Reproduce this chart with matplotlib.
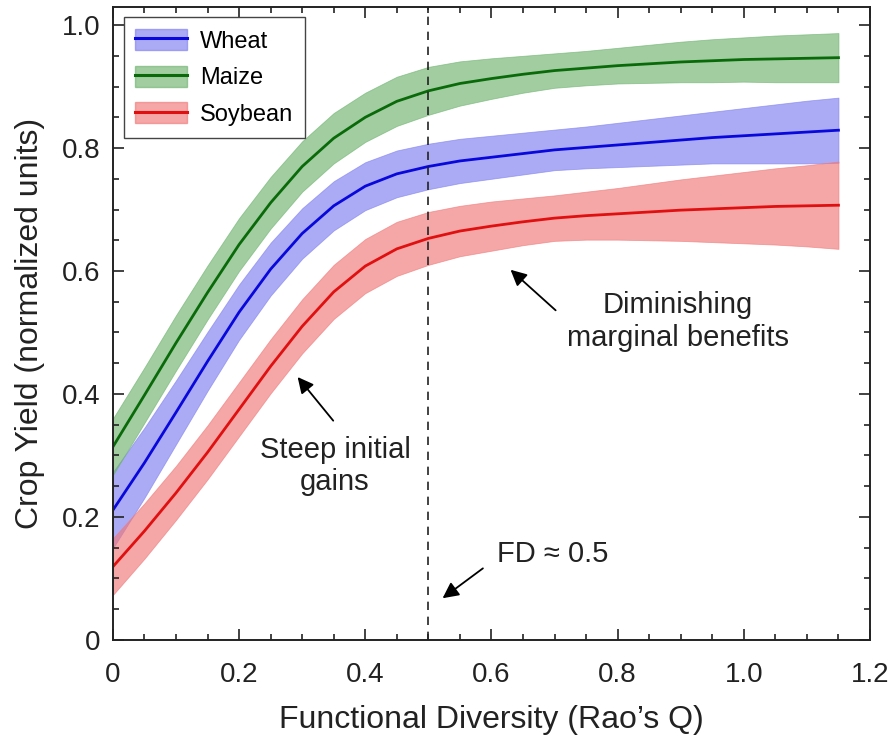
import numpy as np
import matplotlib
matplotlib.use("Agg")
import matplotlib.pyplot as plt
from matplotlib.patches import Patch
from matplotlib.lines import Line2D
from matplotlib.ticker import MultipleLocator

plt.rcParams["font.family"] = ["Liberation Sans", "DejaVu Sans"]

fd = [0.0, 0.05, 0.1, 0.15, 0.2, 0.25, 0.3, 0.35, 0.4, 0.45, 0.5, 0.55,
      0.6, 0.65, 0.7, 0.75, 0.8, 0.85, 0.9, 0.95, 1.0, 1.05, 1.1, 1.15]

wheat = [0.211, 0.288, 0.37, 0.453, 0.533, 0.603, 0.661, 0.706, 0.738, 0.758, 0.77, 0.779,
         0.785, 0.791, 0.797, 0.801, 0.805, 0.809, 0.813, 0.817, 0.82, 0.823, 0.826, 0.829]
wheat_err = [0.062, 0.057, 0.052, 0.048, 0.045, 0.043, 0.041, 0.04, 0.039, 0.038, 0.037, 0.036,
             0.035, 0.034, 0.033, 0.034, 0.036, 0.038, 0.04, 0.042, 0.045, 0.048, 0.051, 0.053]

maize = [0.314, 0.398, 0.483, 0.565, 0.643, 0.711, 0.77, 0.816, 0.85, 0.876, 0.893, 0.905,
         0.913, 0.92, 0.926, 0.93, 0.934, 0.937, 0.94, 0.942, 0.944, 0.945, 0.946, 0.947]
maize_err = [0.046, 0.045, 0.045, 0.044, 0.043, 0.042, 0.041, 0.041, 0.04, 0.04, 0.039, 0.036,
             0.033, 0.03, 0.028, 0.028, 0.029, 0.031, 0.033, 0.035, 0.036, 0.038, 0.039, 0.04]

soybean = [0.119, 0.177, 0.239, 0.305, 0.375, 0.445, 0.51, 0.566, 0.608, 0.636, 0.653, 0.665,
           0.673, 0.68, 0.686, 0.69, 0.693, 0.696, 0.699, 0.701, 0.703, 0.705, 0.706, 0.707]
soybean_err = [0.046, 0.045, 0.044, 0.044, 0.044, 0.044, 0.044, 0.044, 0.044, 0.044, 0.043, 0.041,
               0.04, 0.038, 0.037, 0.039, 0.042, 0.046, 0.05, 0.054, 0.058, 0.062, 0.066, 0.071]

series = [
    ("Wheat", wheat, wheat_err, "#0808dc", "#7f7ff0"),
    ("Maize", maize, maize_err, "#0a6a0a", "#6fb36f"),
    ("Soybean", soybean, soybean_err, "#e01010", "#f07878"),
]

fig = plt.figure(figsize=(8.96, 7.38), dpi=100)
ax = fig.add_axes([0.126, 0.133, 0.845, 0.858])

x = np.array(fd)
handles = []
for name, y, err, lc, fc in series:
    y = np.array(y)
    e = np.array(err)
    ax.fill_between(x, y - e, y + e, color=fc, alpha=0.65, lw=0.6, edgecolor=fc)
    ax.plot(x, y, color=lc, lw=2.0, solid_joinstyle="round")
    handles.append((Patch(facecolor=fc, alpha=0.65, edgecolor=fc), Line2D([], [], color=lc, lw=2.2)))

ax.axvline(0.5, color="#222222", ls=(0, (5, 4)), lw=1.2)

ax.set_xlim(0, 1.2)
ax.set_ylim(0, 1.03)
ax.xaxis.set_minor_locator(MultipleLocator(0.05))
ax.yaxis.set_minor_locator(MultipleLocator(0.05))
ax.set_xticks([0, 0.2, 0.4, 0.6, 0.8, 1.0, 1.2])
ax.set_xticklabels(["0", "0.2", "0.4", "0.6", "0.8", "1.0", "1.2"])
ax.set_yticks([0, 0.2, 0.4, 0.6, 0.8, 1.0])
ax.set_yticklabels(["0", "0.2", "0.4", "0.6", "0.8", "1.0"])
ax.tick_params(which="both", direction="in", top=True, right=True, width=1.2, colors="#222222")
ax.tick_params(which="major", length=8, labelsize=20, labelcolor="#222222")
ax.tick_params(axis="x", which="major", pad=16)
ax.tick_params(axis="y", which="major", pad=9)
ax.tick_params(which="minor", length=4.5)
for s in ax.spines.values():
    s.set_linewidth(1.4)
    s.set_color("#222222")

ax.set_xlabel("Functional Diversity (Rao\u2019s Q)", fontsize=23, color="#222222", labelpad=12)
ax.set_ylabel("Crop Yield (normalized units)", fontsize=23, color="#222222", labelpad=12)

leg = ax.legend(handles, [s[0] for s in series], loc="upper left", fontsize=17,
                handlelength=2.2, handleheight=1.0, labelspacing=0.55,
                borderpad=0.5, handletextpad=0.55, fancybox=False,
                edgecolor="#444444", framealpha=1, borderaxespad=0.45)
leg.get_frame().set_linewidth(1.0)

arrow = dict(arrowstyle="-|>", color="black", lw=1.3, mutation_scale=24)
ax.annotate("", xy=(0.29, 0.431), xytext=(0.352, 0.353), arrowprops=arrow)
ax.text(0.352, 0.283, "Steep initial\ngains", ha="center", va="center",
        fontsize=21, color="#222222", linespacing=1.2)

ax.annotate("", xy=(0.627, 0.605), xytext=(0.705, 0.533), arrowprops=arrow)
ax.text(0.895, 0.518, "Diminishing\nmarginal benefits", ha="center", va="center",
        fontsize=21, color="#222222", linespacing=1.2)

ax.annotate("", xy=(0.519, 0.065), xytext=(0.59, 0.119), arrowprops=arrow)
ax.text(0.608, 0.14, "FD \u2248 0.5", ha="left", va="center", fontsize=21, color="#222222")

fig.savefig("out.png", dpi=100, facecolor="white")
